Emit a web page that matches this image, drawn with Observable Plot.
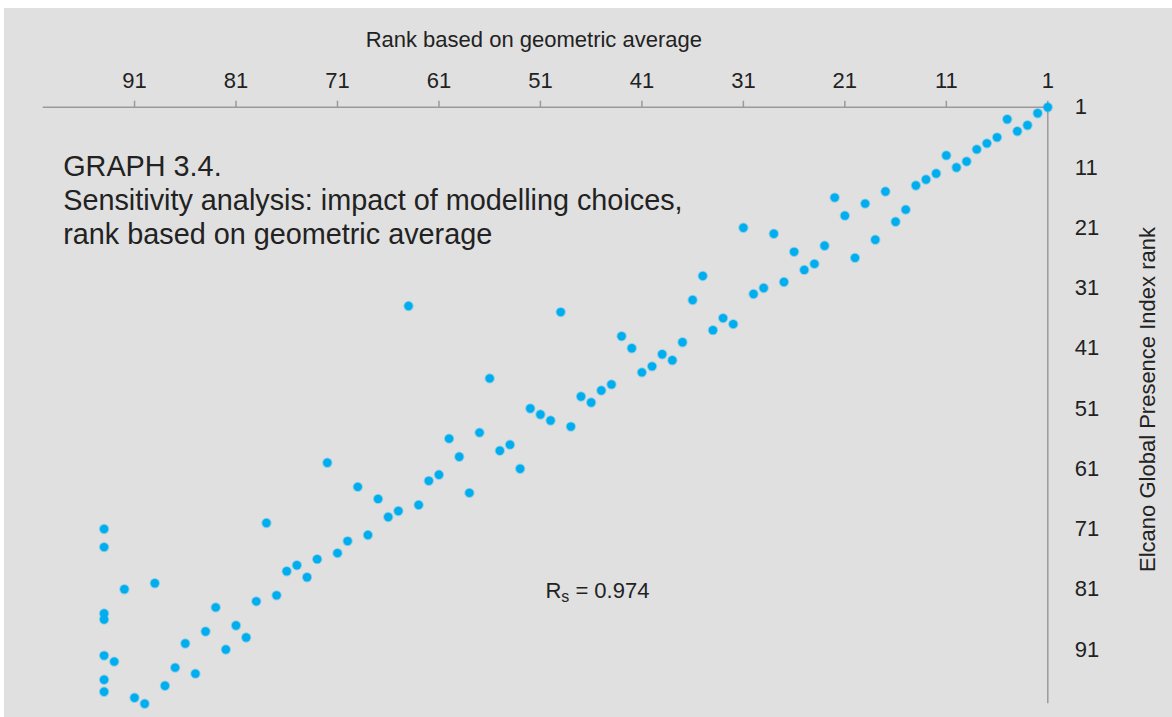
<!DOCTYPE html>
<html><head><meta charset="utf-8">
<script src="https://cdn.jsdelivr.net/npm/d3@7"></script>
<script src="https://cdn.jsdelivr.net/npm/@observablehq/plot@0.6"></script>
<style>
html,body{margin:0;padding:0;background:#fff;}
#chart{position:absolute;left:4px;top:8px;}
</style></head><body><div id="chart"></div>
<script>
// Rank based on geometric average (x) and Elcano Global Presence Index rank (y)
const geoRank = [
  1,2,3,4,5,6,7,8,9,10,11,12,13,14,15,16,17,18,19,20,
  21,22,23,24,25,26,27,28,29,30,31,32,33,34,35,36,37,38,39,40,
  41,42,43,44,45,46,47,48,49,50,51,52,53,54,55,56,57,58,59,60,
  61,62,63,64,65,66,67,68,69,70,71,72,73,74,75,76,77,78,79,80,
  81,82,83,84,85,86,87,88,89,90,91,92,93,
  94,94,94,94,94,94,94
];
const elcanoRank = [
  1,2,4,5,3,6,7,8,10,11,9,12,13,14,18,20,15,23,17,26,
  19,16,24,27,28,25,30,22,31,32,21,37,36,38,29,33,40,43,42,44,
  45,41,39,47,48,50,49,54,35,53,52,51,61,57,58,46,55,65,59,56,
  62,63,67,34,68,69,66,72,64,73,75,60,76,79,77,78,82,70,83,89,
  87,91,84,88,95,90,94,97,80,100,99,81,93,
  71,74,85,86,92,96,98
];
const xTicks = [1,11,21,31,41,51,61,71,81,91];
const yTicks = [1,11,21,31,41,51,61,71,81,91];
const titleLines = ["GRAPH 3.4.", "Sensitivity analysis: impact of modelling choices,", "rank based on geometric average"];
const xLabel = "Rank based on geometric average";
const yLabel = "Elcano Global Presence Index rank";
const rsText = "Rs = 0.974";

const data = geoRank.map((x, i) => ({x, y: elcanoRank[i]}));
const font = "'Liberation Sans', Arial, Helvetica, sans-serif";
const axisGray = "#9a9a9a";

const chart = Plot.plot({
  width: 1168,
  height: 709,
  marginLeft: 38.7,
  marginRight: 124.7,
  marginTop: 98.7,
  marginBottom: 13.7,
  style: {background: "#e0e0e0", fontFamily: font, fontSize: "22px", color: "#222", overflow: "visible"},
  x: {domain: [1, 100], reverse: true, axis: null},
  y: {domain: [1, 100], reverse: true, axis: null},
  marks: [
    Plot.ruleY([1], {stroke: axisGray, strokeWidth: 1.5}),
    Plot.ruleX([1], {stroke: axisGray, strokeWidth: 1.5}),
    Plot.axisX(xTicks, {anchor: "top", tickSize: 7, tickPadding: 12, fontSize: 22, stroke: axisGray, strokeWidth: 1.5, label: null, tickFormat: d => String(d)}),
    Plot.axisY(yTicks, {anchor: "right", tickSize: 0, tickPadding: 27, fontSize: 22, label: null, tickFormat: d => String(d)}),
    Plot.text([xLabel], {frameAnchor: "top", text: d => d, textAnchor: "middle", lineAnchor: "bottom", dx: -11.7, dy: -60.2, fontSize: 22}),
    Plot.text([yLabel], {frameAnchor: "right", text: d => d, rotate: -90, textAnchor: "middle", lineAnchor: "middle", dx: 99.7, dy: -6, fontSize: 22}),
    Plot.text([titleLines.join("\n")], {frameAnchor: "top-left", text: d => d, textAnchor: "start", lineAnchor: "top", lineHeight: 1.18, dx: 20, dy: 44.3, fontSize: 28.8}),
    Plot.text([rsText], {frameAnchor: "top-left", text: d => d, textAnchor: "start", lineAnchor: "middle", dx: 502.2, dy: 483.6, fontSize: 22}),
    Plot.dot(data, {x: "x", y: "y", r: 4.2, fill: "#00aeef", stroke: "#00aeef", strokeOpacity: 0.35, strokeWidth: 2})
  ]
});
document.getElementById("chart").appendChild(chart);

// subscript "s" in the Spearman annotation
for (const t of chart.querySelectorAll("text")) {
  if (t.textContent === rsText) {
    t.textContent = "";
    const ns = "http://www.w3.org/2000/svg";
    const a = document.createElementNS(ns, "tspan"); a.textContent = "R";
    const b = document.createElementNS(ns, "tspan"); b.textContent = "s"; b.setAttribute("font-size", "16"); b.setAttribute("dy", "4");
    const c = document.createElementNS(ns, "tspan"); c.textContent = " = 0.974"; c.setAttribute("dy", "-4");
    t.append(a, b, c);
  }
}
</script></body></html>
